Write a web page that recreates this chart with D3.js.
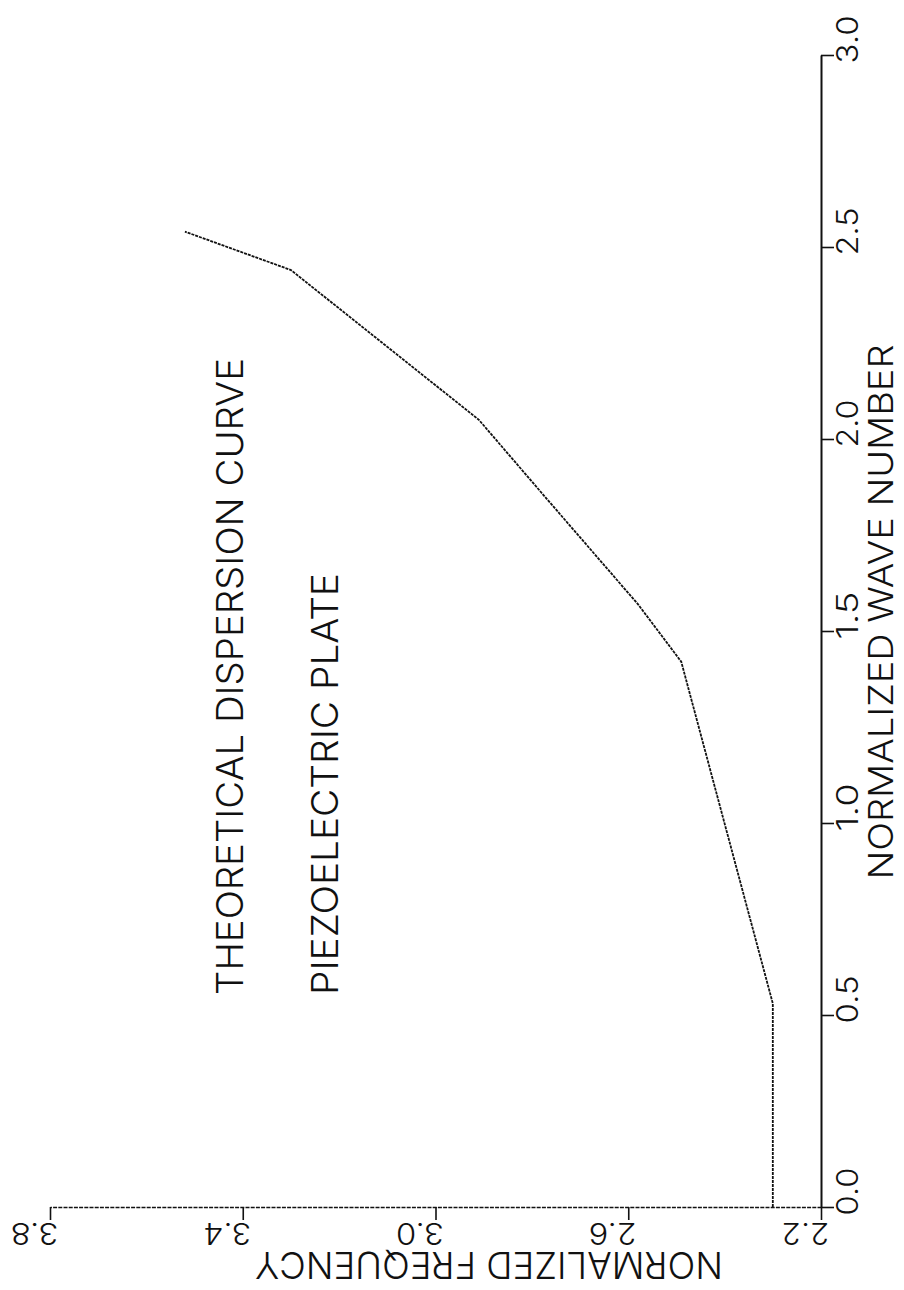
<!DOCTYPE html>
<html>
<head>
<meta charset="utf-8">
<script src="https://cdn.jsdelivr.net/npm/d3@7"></script>
<style>
  html, body { margin: 0; padding: 0; background: #fff; }
  svg { display: block; }
  text { font-family: Inter, "DejaVu Sans", sans-serif; font-weight: 300; fill: #111; }
</style>
</head>
<body>
<svg id="chart" width="904" height="1290"></svg>
<script>
// Dispersion curve of a piezoelectric plate (plotted sideways, as printed by the plotter)
const waveNumber = [0, 0.53, 1.42, 1.57, 1.86, 2.05, 2.24, 2.44, 2.54];
const frequency  = [2.30, 2.30, 2.49, 2.58, 2.78, 2.91, 3.10, 3.30, 3.52];

const waveTicks = [0, 0.5, 1.0, 1.5, 2.0, 2.5, 3.0];
const freqTicks = [2.2, 2.6, 3.0, 3.4, 3.8];

const titleLines = ["THEORETICAL DISPERSION CURVE", "PIEZOELECTRIC PLATE"];
const waveAxisTitle = "NORMALIZED WAVE NUMBER";
const freqAxisTitle = "NORMALIZED FREQUENCY";

const svg = d3.select("#chart");

// wave number runs up the page, frequency runs right-to-left
const k = d3.scaleLinear().domain([0, 3]).range([1207, 55]);
const f = d3.scaleLinear().domain([2.2, 3.8]).range([821, 50]);

const fmt = d3.format(".1f");

// condensed plotter-style lettering
function plotText(parent, str, x, y, rot, size, sx, span, anchor) {
  return parent.append("text")
    .attr("transform", `translate(${x},${y}) rotate(${rot}) scale(${sx},1)`)
    .attr("font-size", size)
    .attr("text-anchor", anchor)
    .attr("textLength", span / sx)
    .attr("lengthAdjust", "spacingAndGlyphs")
    .text(str);
}

// wave-number axis (vertical, right side); labels start at their tick
const kAxis = svg.append("g")
  .attr("transform", "translate(821,0)")
  .call(d3.axisRight(k).tickValues(waveTicks).tickSize(13).tickSizeOuter(0).tickFormat(fmt));
kAxis.select(".domain").attr("stroke", "#111").attr("stroke-width", 2);
kAxis.selectAll(".tick line").attr("stroke", "#111").attr("stroke-width", 1.6);
kAxis.selectAll(".tick text").remove();
kAxis.selectAll(".tick").each(function (d) {
  plotText(d3.select(this), fmt(d), 37, -16, -90, 30, 0.78, 48, "middle");
});

// frequency axis (horizontal, bottom)
const fAxis = svg.append("g")
  .attr("transform", "translate(0,1207)")
  .call(d3.axisBottom(f).tickValues(freqTicks).tickSize(13).tickSizeOuter(0).tickFormat(fmt));
fAxis.select(".domain").attr("stroke", "#111").attr("stroke-width", 1.6).attr("stroke-dasharray", "4 1.2");
fAxis.selectAll(".tick line").attr("stroke", "#111").attr("stroke-width", 1.6);
fAxis.selectAll(".tick text").remove();
fAxis.selectAll(".tick").each(function (d) {
  plotText(d3.select(this), fmt(d), -16, 16, 180, 30, 0.78, 48, "middle");
});

// axis titles
plotText(svg, waveAxisTitle, 893, 612, -90, 34, 0.72, 535, "middle");
plotText(svg, freqAxisTitle, 489, 1252, 180, 37, 0.72, 468, "middle");

// chart titles
plotText(svg, titleLines[0], 243, 995, -90, 37, 0.72, 637, "start");
plotText(svg, titleLines[1], 338, 995, -90, 37, 0.72, 422, "start");

// the dispersion curve
const pts = waveNumber.map((w, i) => [w, frequency[i]]);
const line = d3.line().x(d => f(d[1])).y(d => k(d[0]));
svg.append("path")
  .datum(pts)
  .attr("d", line)
  .attr("fill", "none")
  .attr("stroke", "#111")
  .attr("stroke-width", 1.8)
  .attr("stroke-dasharray", "3 1");
</script>
</body>
</html>
